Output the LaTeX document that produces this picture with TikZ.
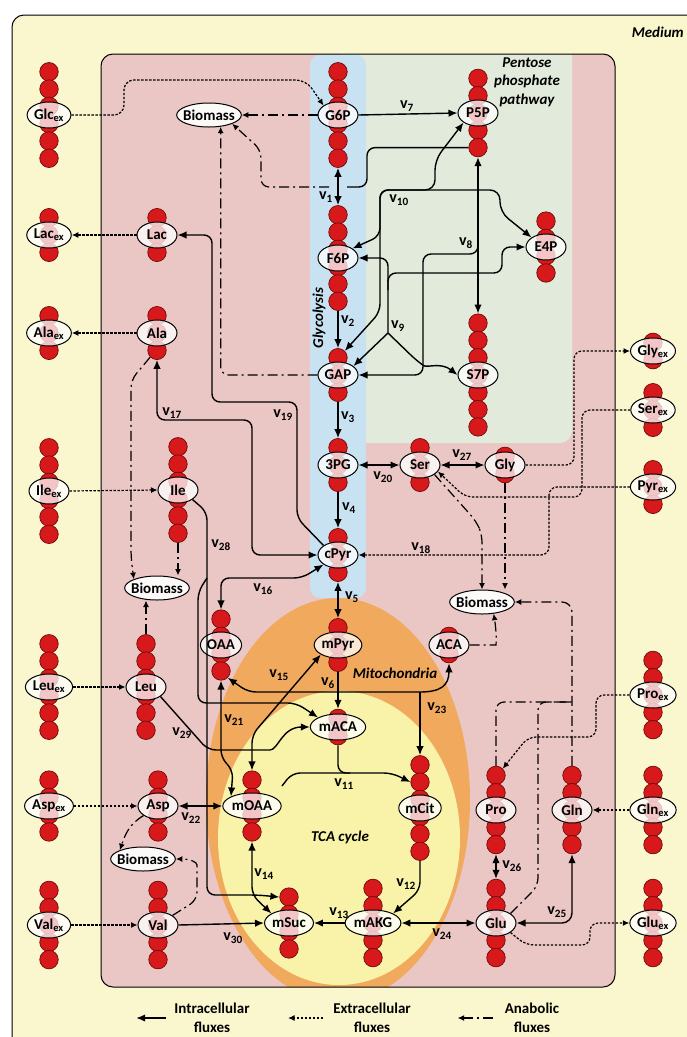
\documentclass[tikz,border=0pt]{standalone}
\usepackage{fontspec}
\setmainfont{Carlito}
\usepackage{tikz}
\usetikzlibrary{arrows.meta,shapes.geometric}
\definecolor{mfaMedium}{HTML}{FAF6CE}
\definecolor{mfaCell}{HTML}{EAC6C5}
\definecolor{mfaGlyco}{HTML}{C9E2F2}
\definecolor{mfaPPP}{HTML}{E2EADB}
\definecolor{mfaMito}{HTML}{F1A95E}
\definecolor{mfaTCA}{HTML}{F8F3A8}
\definecolor{mfaRed}{HTML}{D7191C}
\definecolor{mfaRedDark}{HTML}{6E0A0A}

\tikzset{
  carbon/.style={circle,minimum size=18.5pt,inner sep=0pt,fill=mfaRed,draw=mfaRedDark,line width=0.7pt},
  met/.style={ellipse,draw=black,line width=1pt,fill=white,fill opacity=0.75,text opacity=1,
              inner xsep=0.5pt,inner ysep=0pt,minimum width=40pt,minimum height=26pt},
  biomass/.style={met,fill opacity=0.9,inner xsep=-3pt,minimum height=24pt},
  flux/.style={line width=1.4pt,rounded corners=8pt},
  intra/.style={flux,-{Latex[length=9pt,width=7.5pt]}},
  rev/.style={flux,{Latex[length=9pt,width=7.5pt]}-{Latex[length=9pt,width=7.5pt]}},
  extra/.style={line width=1.2pt,dash pattern=on 2.4pt off 1.6pt,rounded corners=8pt,
                -{Latex[length=6.5pt,width=6pt]}},
  anab/.style={line width=1.2pt,dash pattern=on 10pt off 4pt on 2pt off 4pt,rounded corners=8pt,
               -{Latex[length=6.5pt,width=6pt]}},
  vlab/.style={inner sep=0pt,font=\fontsize{16}{18}\selectfont\bfseries},
  area/.style={inner sep=0pt,font=\fontsize{15}{18.5}\selectfont\bfseries\itshape},
  legend/.style={inner sep=0pt,align=center,font=\fontsize{15}{19}\selectfont\bfseries}
}

\newcommand{\metab}[5]{%
  \foreach \k in {1,...,#4}{%
    \node[carbon] (#1-c\k) at (#2,{#3+(\k-(#4+1)/2)*17.3}) {};
  }
  \node[met] (#1) at (#2,#3) {#5};
}

\begin{document}
\begin{tikzpicture}[x=1pt,y=-1pt,font=\fontsize{15}{17}\selectfont\bfseries]
  \useasboundingbox (0,0) rectangle (687,1037);
  \draw[fill=mfaMedium,line width=1pt,rounded corners=12pt] (12,15) rectangle (720,1070);
  \fill[mfaCell,rounded corners=12pt] (101,54) rectangle (615,987);
  \begin{scope}
    \clip[rounded corners=12pt] (101,54) rectangle (615,987);
    \fill[mfaPPP,rounded corners=12pt] (340,40) rectangle (572,443);
    \fill[mfaGlyco,rounded corners=10pt] (310,55) rectangle (366,598);
    \fill[mfaMito] (338,800) ellipse [x radius=132pt,y radius=202pt];
    \fill[mfaTCA] (339,838) ellipse [x radius=121pt,y radius=147pt];
  \end{scope}
  \draw[line width=1pt,rounded corners=12pt] (101,54) rectangle (615,987);

  \node[area,anchor=east] (medLab) at (684,32) {Medium};
  \node[area,align=center] (pppLab) at (527,82) {Pentose\\phosphate\\pathway};
  \node[area,rotate=90] (glyLab) at (319,318) {Glycolysis};
  \node[area] (mitLab) at (395,673) {Mitochondria};
  \node[area] (tcaLab) at (340,837) {TCA cycle};

  \metab{GlcEx}{49}{115}{6}{Glc\textsubscript{ex}}
  \metab{LacEx}{49}{235}{3}{Lac\textsubscript{ex}}
  \metab{AlaEx}{49}{333}{3}{Ala\textsubscript{ex}}
  \metab{IleEx}{49}{491}{6}{Ile\textsubscript{ex}}
  \metab{LeuEx}{49}{687}{6}{Leu\textsubscript{ex}}
  \metab{AspEx}{49}{806}{4}{Asp\textsubscript{ex}}
  \metab{ValEx}{49}{925}{5}{Val\textsubscript{ex}}
  \metab{GlyEx}{653}{351}{2}{Gly\textsubscript{ex}}
  \metab{SerEx}{653}{410}{3}{Ser\textsubscript{ex}}
  \metab{PyrEx}{653}{487}{3}{Pyr\textsubscript{ex}}
  \metab{ProEx}{653}{695}{5}{Pro\textsubscript{ex}}
  \metab{GlnEx}{653}{810}{5}{Gln\textsubscript{ex}}
  \metab{GluEx}{653}{923}{5}{Glu\textsubscript{ex}}

  \metab{G6P}{338}{115}{6}{G6P}
  \metab{P5P}{478}{113}{5}{P5P}
  \metab{F6P}{338}{258}{6}{F6P}
  \metab{E4P}{546}{247}{4}{E4P}
  \metab{GAP}{338}{375}{3}{GAP}
  \metab{S7P}{478}{375}{7}{S7P}
  \metab{PG3}{338}{465}{3}{3PG}
  \metab{cPyr}{338}{555}{3}{cPyr}
  \metab{Ser}{420}{465}{3}{Ser}
  \metab{Gly}{505}{465}{2}{Gly}
  \metab{Lac}{157}{235}{3}{Lac}
  \metab{Ala}{157}{333}{3}{Ala}
  \metab{Ile}{178}{490}{6}{Ile}
  \metab{Leu}{146}{687}{6}{Leu}
  \metab{OAA}{221}{645}{4}{OAA}
  \metab{mPyr}{338}{645}{3}{mPyr}
  \metab{ACA}{449}{645}{2}{ACA}
  \metab{mACA}{338}{727}{2}{mACA}
  \metab{Asp}{158}{806}{4}{Asp}
  \metab{mOAA}{252}{806}{4}{mOAA}
  \metab{mCit}{420}{808}{6}{mCit}
  \metab{Pro}{496}{810}{5}{Pro}
  \metab{Gln}{572}{810}{5}{Gln}
  \metab{Val}{158}{925}{5}{Val}
  \metab{mSuc}{289}{923}{4}{mSuc}
  \metab{mAKG}{373}{923}{5}{mAKG}
  \metab{Glu}{496}{923}{5}{Glu}

  \node[biomass] (BioA) at (209,115) {Biomass};
  \node[biomass] (BioB) at (157,588) {Biomass};
  \node[biomass] (BioC) at (143,859) {Biomass};
  \node[biomass] (BioD) at (482,602) {Biomass};

  \draw[rev] (G6P-c6.south) -- (F6P-c1.north);
  \draw[intra] (F6P-c6.south) -- (GAP-c1.north);
  \draw[intra] (GAP-c3.south) -- (PG3-c1.north);
  \draw[intra] (PG3-c3.south) -- (cPyr-c1.north);
  \draw[rev] (cPyr-c3.south) -- (mPyr-c1.north);
  \draw[intra] (mPyr-c3.south) -- (mACA-c1.north);

  \draw[intra] (G6P.east) -- (P5P.west);
  \draw[rev] (P5P-c5.south) -- (S7P-c1.north);
  \coordinate (v8j) at (478,240);
  \draw[intra] (v8j) |- (423,254) |- (GAP.east);
  \coordinate (v9j) at (388,333);
  \coordinate (v9e) at (388,290);
  \draw[intra] (v9j) |- (F6P.east);
  \draw[intra] (v9e) |- (502,273) |- (E4P.west);
  \draw[intra] (v9j) -- (GAP.30);
  \draw[intra] (v9j) -- (417,361) .. controls (427,368) and (441,362) .. (S7P.west);
  \coordinate (v10j) at (420,190);
  \draw[intra] (v10j) -| (380,236) -- (F6P.north east);
  \draw[intra] (v10j) -| (380,312) -- (GAP-c1.45);
  \draw[intra,rounded corners=10pt] (v10j) -| (435,160) -- (P5P.south west);
  \draw[intra,rounded corners=10pt] (v10j) -| (500,212) -- (E4P.north west);
  \coordinate (p5pT) at (347,187);
  \coordinate (v1w) at (329,187);
  \draw[flux] (P5P-c5.west) -| (367,187) -- (p5pT);
  \draw[anab] (v1w) -| (261,150) -- (BioA.south east);

  \draw[rev] (PG3.east) -- (Ser.west);
  \draw[rev] (Ser.east) -- (Gly.west);
  \draw[rev] (Ala-c3.south) |- (252,420) |- (cPyr.west);
  \draw[intra] (cPyr.north west) -- (297,518) |- (212,402) |- (Lac.east);
  \draw[rev] (cPyr.south west) -- (302,578) -| (OAA-c1.north);

  \draw[rev] (mPyr.south west) -- (252,735) -- (mOAA-c1.north);
  \draw[rev] (OAA-c4.south) -- (221,758) -- (233,770) -- (mOAA.north west);
  \coordinate (v11s) at (282,786);
  \draw[flux] (v11s) -- (292,773) -- (350,773);
  \draw[intra] (mACA-c2.south) |- (392,773) -- (mCit-c2.west);
  \draw[intra] (mCit-c6.south) -- (420,890) -- (mAKG.north east);
  \draw[intra] (mAKG.west) -- (mSuc.east);
  \draw[rev] (mOAA-c4.south) -- (252,895) -- (mSuc.north west);
  \coordinate (v23j) at (420,692);
  \draw[intra] (v23j) -- (248,692) -- (OAA-c4.south east);
  \draw[intra] (v23j) .. controls (440,692) and (449,686) .. (ACA-c2.south);
  \draw[intra] (v23j) -- (mCit-c1.north);
  \draw[rev] (Asp.east) -- (mOAA.west);
  \draw[rev] (mAKG.east) -- (Glu.west);
  \draw[rev,rounded corners=10pt] (Gln-c5.south) |- (Glu.east);
  \draw[rev] (Pro-c5.south) -- (Glu-c1.north);

  \coordinate (v28j) at (207,578);
  \draw[intra] (Ile.south east) -- (207,512) -- (207,895) -- (258,895) -- (mSuc-c1.west);
  \draw[intra] (v28j) -- (198,592) -- (198,703) -- (296,703) -- (mACA.north west);
  \draw[intra] (Leu.south east) -- (208,750) -- (262,750) .. controls (278,750) and (282,727) .. (mACA.west);
  \draw[intra] (Val.east) -- (mSuc.west);

  \draw[extra,rounded corners=10pt] (GlcEx.east) -| (124,80) -- (306,80) -- (G6P.north west);
  \draw[extra] (Lac.west) -- (LacEx.east);
  \draw[extra] (Ala.west) -- (AlaEx.east);
  \draw[extra] (IleEx.east) -- (Ile.west);
  \draw[extra] (LeuEx.east) -- (Leu.west);
  \draw[extra] (AspEx.east) -- (Asp.west);
  \draw[extra] (ValEx.east) -- (Val.west);
  \draw[extra] (Gly.east) -| (574,351) -- (GlyEx.west);
  \draw[extra] (SerEx.west) -| (582,497) -- (465,497) -- (Ser.-20);
  \draw[extra] (PyrEx.west) -| (549,555) -- (cPyr.east);
  \draw[extra] (ProEx.west) -| (596,737) -- (528,737) -- (Pro-c1.north east);
  \draw[extra] (GlnEx.west) -- (Gln.east);
  \draw[extra] (Glu.south east) -- (526,945) -- (590,945) |- (GluEx.west);

  \draw[anab] (G6P.west) -- (BioA.east);
  \draw[anab] (GAP.west) -| (BioA.-45);
  \draw[anab] (Ala-c3.south west) -- (131,380) -- (131,557) -- (BioB.north west);
  \draw[anab] (Ile-c6.south) -- (Ile-c6.south |- BioB.north);
  \draw[anab] (Leu-c1.north) -- (Leu-c1.north |- BioB.south);
  \draw[anab] (Asp.south west) .. controls (130,824) and (126,832) .. (BioC.north west);
  \draw[anab] (Val.north east) -- (197,900) -- (197,873) .. controls (197,862) and (190,859) .. (BioC.east);
  \draw[anab] (Ser.south east) -- (476,521) -- (482,534) -- (BioD.north);
  \draw[anab] (Gly-c2.south) -- (Gly-c2.south |- BioD.north);
  \draw[anab] (ACA.east) -- (488,645) .. controls (496,645) and (497,635) .. (BioD.-45);
  \coordinate (bioT) at (572,702);
  \draw[anab,rounded corners=10pt] (Gln-c1.north) |- (BioD.east);
  \draw[anab,-] (Pro-c1.north) |- (bioT);
  \draw[anab,-] (Glu.north east) -- (538,886) |- (bioT);

  \node[vlab] (lv1) at (326,197) {v\textsubscript{1}};
  \node[vlab] (lv2) at (348,321) {v\textsubscript{2}};
  \node[vlab] (lv3) at (348,417) {v\textsubscript{3}};
  \node[vlab] (lv4) at (349,508) {v\textsubscript{4}};
  \node[vlab] (lv5) at (352,597) {v\textsubscript{5}};
  \node[vlab] (lv6) at (328,683) {v\textsubscript{6}};
  \node[vlab] (lv7) at (407,106) {v\textsubscript{7}};
  \node[vlab] (lv8) at (466,243) {v\textsubscript{8}};
  \node[vlab] (lv9) at (398,326) {v\textsubscript{9}};
  \node[vlab] (lv10) at (399,200) {v\textsubscript{10}};
  \node[vlab] (lv11) at (344,784) {v\textsubscript{11}};
  \node[vlab] (lv12) at (406,884) {v\textsubscript{12}};
  \node[vlab] (lv13) at (339,913) {v\textsubscript{13}};
  \node[vlab] (lv14) at (264,874) {v\textsubscript{14}};
  \node[vlab] (lv15) at (279,675) {v\textsubscript{15}};
  \node[vlab] (lv16) at (263,589) {v\textsubscript{16}};
  \node[vlab] (lv17) at (172,413) {v\textsubscript{17}};
  \node[vlab] (lv18) at (421,548) {v\textsubscript{18}};
  \node[vlab] (lv19) at (283,415) {v\textsubscript{19}};
  \node[vlab] (lv20) at (383,477) {v\textsubscript{20}};
  \node[vlab] (lv21) at (234,720) {v\textsubscript{21}};
  \node[vlab] (lv22) at (191,818) {v\textsubscript{22}};
  \node[vlab] (lv23) at (437,708) {v\textsubscript{23}};
  \node[vlab] (lv24) at (442,934) {v\textsubscript{24}};
  \node[vlab] (lv25) at (557,912) {v\textsubscript{25}};
  \node[vlab] (lv26) at (512,866) {v\textsubscript{26}};
  \node[vlab] (lv27) at (462,455) {v\textsubscript{27}};
  \node[vlab] (lv28) at (221,545) {v\textsubscript{28}};
  \node[vlab] (lv29) at (182,733) {v\textsubscript{29}};
  \node[vlab] (lv30) at (233,938) {v\textsubscript{30}};

  \node[legend] (legIn) at (212,1018) {Intracellular\\fluxes};
  \node[legend] (legEx) at (372,1018) {Extracellular\\fluxes};
  \node[legend] (legAn) at (532,1018) {Anabolic\\fluxes};
  \draw[intra] ([xshift=-8pt]legIn.west) -- ++(-30,0);
  \draw[extra] ([xshift=-10pt]legEx.west) -- ++(-35,0);
  \draw[anab] ([xshift=-12pt]legAn.west) -- ++(-35,0);
\end{tikzpicture}
\end{document}
